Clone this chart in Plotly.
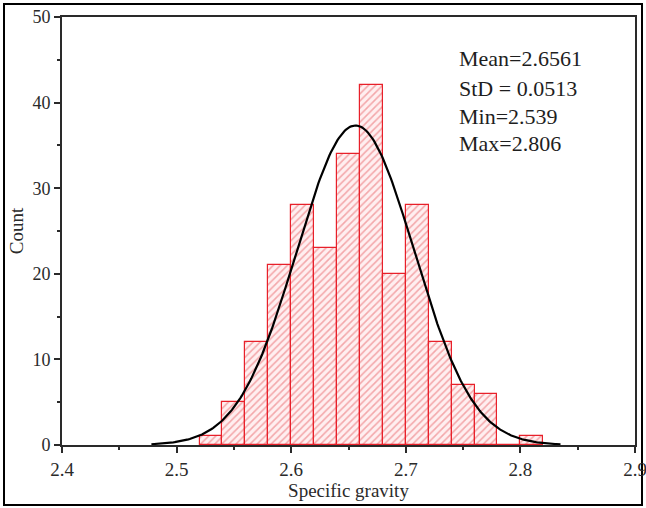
import numpy as np
import plotly.graph_objects as go

# ---- data ----
bin_left = [2.52, 2.54, 2.56, 2.58, 2.60, 2.62, 2.64, 2.66, 2.68, 2.70, 2.72, 2.74, 2.76, 2.78, 2.80]
counts = [1, 5, 12, 21, 28, 23, 34, 42, 20, 28, 12, 7, 6, 0, 1]
bin_width = 0.02
mean_val = 2.6561
std_val = 0.0513
stats_labels = ["Mean=2.6561", "StD = 0.0513", "Min=2.539", "Max=2.806"]
x_ticks = [2.4, 2.5, 2.6, 2.7, 2.8, 2.9]
y_ticks = [0, 10, 20, 30, 40, 50]

# fitted normal curve from the stated Mean / StD, scaled to the histogram
n_total = sum(counts)
xc = np.linspace(2.478, 2.835, 300)
yc = n_total * bin_width / (std_val * np.sqrt(2 * np.pi)) * np.exp(-0.5 * ((xc - mean_val) / std_val) ** 2)

FONT = "Liberation Serif"
AX = "#2a2a2a"

fig = go.Figure()
fig.add_trace(go.Bar(
    x=[b + bin_width / 2 for b in bin_left],
    y=counts,
    width=bin_width,
    marker=dict(
        color="white",
        line=dict(color="#e8202a", width=1.2),
        pattern=dict(shape="/", fgcolor="rgba(225,60,65,0.8)", bgcolor="#ffeff0", size=5, solidity=0.32),
    ),
    showlegend=False,
))
fig.add_trace(go.Scatter(x=xc, y=yc, mode="lines", line=dict(color="black", width=2.2), showlegend=False))

ann_y = [45.1, 41.7, 38.4, 35.2]
for lab, yy in zip(stats_labels, ann_y):
    fig.add_annotation(x=2.7445, y=yy, xref="x", yref="y", text=lab, showarrow=False,
                       xanchor="left", yanchor="middle", font=dict(family=FONT, size=22, color="#1e1e1e"))

# outer frame around the whole picture
fig.add_shape(type="rect", xref="paper", yref="paper",
              x0=(4 - 62) / 573, x1=(642 - 62) / 573, y0=(445 - 505) / 428, y1=(445 - 4) / 428,
              line=dict(color="black", width=2), layer="below")

fig.update_layout(
    width=646, height=508,
    margin=dict(l=62, r=11, t=17, b=63, autoexpand=False),
    paper_bgcolor="white", plot_bgcolor="white",
    bargap=0,
    font=dict(family=FONT, color=AX),
)
fig.update_xaxes(
    range=[2.4, 2.9], tickvals=x_ticks, ticktext=[f"{v:.1f}" for v in x_ticks],
    ticks="outside", ticklen=6, tickwidth=1.5, tickcolor=AX, ticklabeloverflow="allow",
    minor=dict(tickvals=[2.45, 2.55, 2.65, 2.75, 2.85], ticks="outside", ticklen=3, tickwidth=1.5, tickcolor=AX),
    showline=True, linecolor=AX, linewidth=2, mirror=True, showgrid=False, zeroline=False,
    tickfont=dict(family=FONT, size=19, color=AX), automargin=False,
    title=dict(text="Specific gravity", font=dict(family=FONT, size=19, color=AX), standoff=4),
)
fig.update_yaxes(
    range=[0, 50], tickvals=y_ticks,
    ticks="outside", ticklen=6, tickwidth=1.5, tickcolor=AX, ticklabeloverflow="allow",
    minor=dict(tickvals=[5, 15, 25, 35, 45], ticks="outside", ticklen=3, tickwidth=1.5, tickcolor=AX),
    showline=True, linecolor=AX, linewidth=2, mirror=True, showgrid=False, zeroline=False,
    tickfont=dict(family=FONT, size=18, color=AX), automargin=False,
    title=dict(text="Count", font=dict(family=FONT, size=19, color=AX), standoff=4),
)

fig.write_html("out.html", config={"displayModeBar": False},
               post_script="document.body.style.margin='0px';document.body.style.overflow='hidden';")
